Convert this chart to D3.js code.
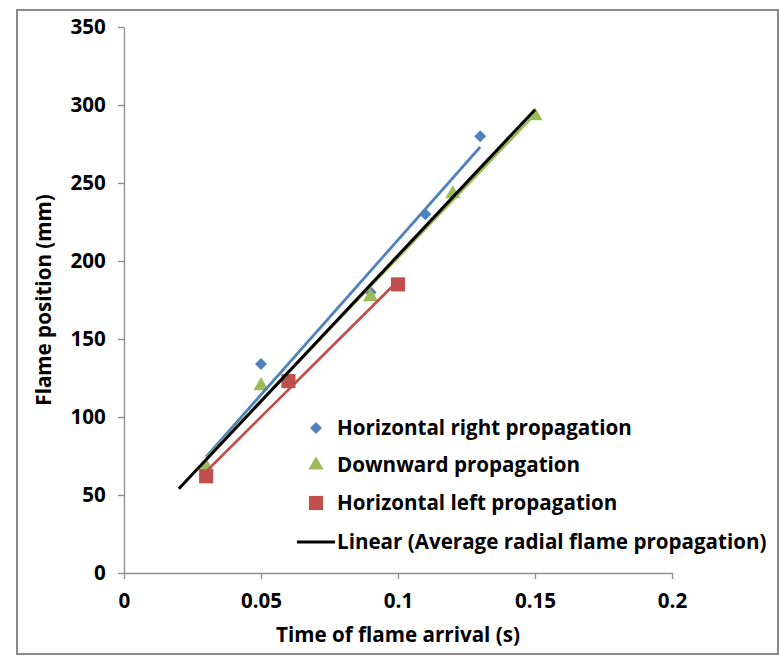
<!DOCTYPE html>
<html><head><meta charset="utf-8">
<script src="https://cdn.jsdelivr.net/npm/d3@7"></script>
<style>body{margin:0;background:#fff}svg{display:block}text{font-family:"Open Sans",sans-serif;font-weight:bold}</style>
</head><body>
<script>
// Data
const rightTime = [0.03, 0.05, 0.09, 0.11, 0.13];
const rightPos  = [65, 134, 180, 230, 280];
const downTime  = [0.03, 0.05, 0.09, 0.12, 0.15];
const downPos   = [68, 120, 177, 243, 293];
const leftTime  = [0.03, 0.06, 0.10];
const leftPos   = [62, 123, 185];
const avgTrendTime = [0.02, 0.15];
const avgTrendPos  = [54, 297];
const xTicks = [0, 0.05, 0.1, 0.15, 0.2];
const yTicks = [0, 50, 100, 150, 200, 250, 300, 350];
const legendLabels = ["Horizontal right propagation", "Downward propagation", "Horizontal left propagation", "Linear (Average radial flame propagation)"];

const W = 779, H = 657;
const svg = d3.select("body").append("svg").attr("width", W).attr("height", H);
svg.append("rect").attr("x", 17).attr("y", 10).attr("width", 761).attr("height", 644)
  .attr("fill", "#fff").attr("stroke", "#8a8a8a").attr("stroke-width", 2);

// pick a font size so the legend text width matches the reference (~295px)
const probe = svg.append("text").style("font-size", "20px").text(legendLabels[0]);
const fs = Math.min(22, Math.max(16, 20 * 295 / probe.node().getComputedTextLength()));
probe.remove();
const FS = fs + "px";

const x = d3.scaleLinear().domain([0, 0.2]).range([124, 672]);
const y = d3.scaleLinear().domain([0, 350]).range([573, 27]);

const axisColor = "#8c8c8c";
const gx = svg.append("g").attr("transform", "translate(0,573)")
  .call(d3.axisBottom(x).tickValues(xTicks).tickFormat(d => String(d)).tickSize(6).tickSizeOuter(0));
const gy = svg.append("g").attr("transform", "translate(124,0)")
  .call(d3.axisLeft(y).tickValues(yTicks).tickFormat(d => String(d)).tickSize(6).tickSizeOuter(0));
[gx, gy].forEach(g => {
  g.selectAll("path,line").attr("stroke", axisColor).attr("stroke-width", 1.3);
  g.selectAll("text").attr("fill", "#000").style("font-size", FS)
    .style("font-family", "'Open Sans', sans-serif").style("font-weight", "bold");
});
gx.selectAll("text").attr("dy", "1.25em");
gy.selectAll("text").attr("dx", "-0.45em");

svg.append("text").attr("x", 398).attr("y", 642).attr("text-anchor", "middle")
  .style("font-size", FS).text("Time of flame arrival (s)");
svg.append("text").attr("transform", "translate(51,300) rotate(-90)").attr("text-anchor", "middle")
  .style("font-size", FS).text("Flame position (mm)");

function fit(xs, ys) {
  const mx = d3.mean(xs), my = d3.mean(ys);
  const b = d3.sum(xs, (v, i) => (v - mx) * (ys[i] - my)) / d3.sum(xs, v => (v - mx) ** 2);
  return v => my + b * (v - mx);
}
const line = d3.line().x(d => x(d[0])).y(d => y(d[1]));
const series = [
  {t: rightTime, p: rightPos, color: "#4F81BD", sym: d3.symbolSquare, size: 72, rot: 45},
  {t: downTime, p: downPos, color: "#9BBB59", sym: d3.symbolTriangle, size: 100, rot: 0},
  {t: leftTime, p: leftPos, color: "#C0504D", sym: d3.symbolSquare, size: 200, rot: 0},
];
series.forEach(s => {
  svg.append("g").selectAll("path").data(s.t.map((v, i) => [v, s.p[i]])).join("path")
    .attr("d", d3.symbol().type(s.sym).size(s.size))
    .attr("transform", d => `translate(${x(d[0])},${y(d[1])}) rotate(${s.rot})`)
    .attr("fill", s.color);
});
series.forEach(s => {
  const f = fit(s.t, s.p);
  const ext = d3.extent(s.t);
  svg.append("path").attr("d", line(ext.map(v => [v, f(v)])))
    .attr("stroke", s.color).attr("stroke-width", 2.8).attr("fill", "none");
});
svg.append("path").attr("d", line(avgTrendTime.map((v, i) => [v, avgTrendPos[i]])))
  .attr("stroke", "#000").attr("stroke-width", 3).attr("fill", "none");

// Legend
const lg = svg.append("g");
const rows = [428, 465, 503, 542];
series.forEach((s, i) => {
  lg.append("path").attr("d", d3.symbol().type(s.sym).size(s.size))
    .attr("transform", `translate(316,${rows[i]}) rotate(${s.rot})`).attr("fill", s.color);
});
lg.append("line").attr("x1", 297).attr("x2", 335).attr("y1", rows[3]).attr("y2", rows[3])
  .attr("stroke", "#000").attr("stroke-width", 3);
legendLabels.forEach((l, i) => {
  lg.append("text").attr("x", 337).attr("y", rows[i]).attr("dy", "0.36em")
    .style("font-size", FS).text(l);
});
</script>
</body></html>
